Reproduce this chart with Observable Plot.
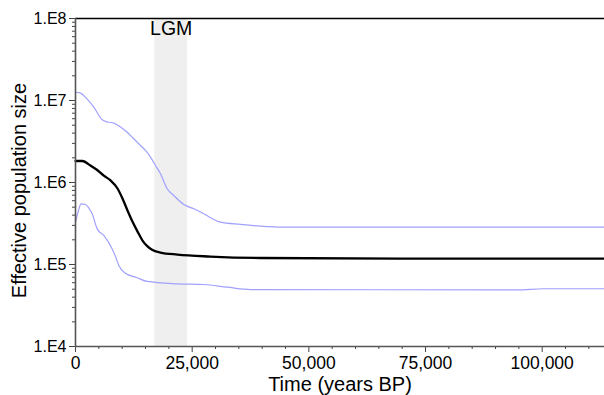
<!DOCTYPE html>
<html>
<head>
<meta charset="utf-8">
<script src="https://cdn.jsdelivr.net/npm/d3@7"></script>
<script src="https://cdn.jsdelivr.net/npm/@observablehq/plot@0.6"></script>
<style>
  html, body { margin: 0; padding: 0; background: white; }
</style>
</head>
<body>
<div id="chart"></div>
<script>
// Median effective population size (black)
const medianTime = [0, 1500, 3200, 4500, 6000, 7500, 9000, 10070, 11140, 12200, 13300, 14360, 15430, 16500, 18200, 21860, 28900, 39640, 69600, 113350];
const medianNe   = [1.83e6, 1.83e6, 1.61e6, 1.44e6, 1.22e6, 1.06e6, 8.45e5, 6.38e5, 4.56e5, 3.34e5, 2.52e5, 1.96e5, 1.66e5, 1.50e5, 1.40e5, 1.32e5, 1.25e5, 1.20e5, 1.18e5, 1.18e5];

// Upper 95% HPD (blue)
const upperTime = [0, 1070, 2360, 3920, 5720, 6860, 8210, 9640, 11080, 12430, 13930, 15000, 16070, 17140, 18210, 19650, 21060, 23210, 25350, 27490, 31070, 35360, 39640, 44570, 113350];
const upperNe   = [1.26e7, 1.23e7, 1.06e7, 8.28e6, 5.82e6, 5.47e6, 5.29e6, 4.75e6, 4.10e6, 3.44e6, 2.83e6, 2.46e6, 2.04e6, 1.61e6, 1.28e6, 8.38e5, 6.94e5, 5.39e5, 4.78e5, 4.15e5, 3.28e5, 3.08e5, 2.93e5, 2.85e5, 2.85e5];

// Lower 95% HPD (blue)
const lowerTime = [0, 640, 1180, 2140, 2790, 3580, 4650, 6060, 7860, 8570, 9280, 10710, 13220, 15360, 21790, 27490, 32500, 37500, 94700, 100280, 113350];
const lowerNe   = [3.28e5, 4.56e5, 5.50e5, 5.39e5, 4.95e5, 4.15e5, 2.72e5, 2.26e5, 1.55e5, 1.25e5, 9.73e4, 7.84e4, 6.89e4, 6.21e4, 5.82e4, 5.70e4, 5.29e4, 4.95e4, 4.91e4, 5.06e4, 5.06e4];

// Last Glacial Maximum band
const lgmStart = 17000;
const lgmEnd = 24000;
const lgmLabel = "LGM";
const lgmLabelTime = 20500;

// Axis ticks
const yTicks = [1e4, 1e5, 1e6, 1e7, 1e8];
const yTickLabels = ["1.E4", "1.E5", "1.E6", "1.E7", "1.E8"];
const xTicks = [0, 25000, 50000, 75000, 100000];
const xMinorStep = 5000;
const xMax = 113350;

const xTitle = "Time (years BP)";
const yTitle = "Effective population size";

const toRows = (ts, vs) => ts.map((t, i) => ({t, ne: vs[i]}));
const median = toRows(medianTime, medianNe);
const upper = toRows(upperTime, upperNe);
const lower = toRows(lowerTime, lowerNe);

const yMinor = [];
for (let e = 4; e < 8; e++) for (let m = 2; m <= 9; m++) yMinor.push(m * Math.pow(10, e));
const xMinor = d3.range(0, xMax, xMinorStep).filter(v => !xTicks.includes(v));

const font = "Liberation Sans, Arial, sans-serif";

const chart = Plot.plot({
  width: 604,
  height: 395,
  marginLeft: 75,
  marginRight: 0,
  marginTop: 18,
  marginBottom: 49,
  style: {fontFamily: font, background: "white", color: "black", overflow: "visible"},
  x: {domain: [0, xMax]},
  y: {type: "log", domain: [1e4, 1e8]},
  marks: [
    Plot.rect([{start: lgmStart, end: lgmEnd}], {x1: "start", x2: "end", fill: "#efefef"}),
    Plot.ruleY([1e8], {stroke: "black", strokeWidth: 1.3}),
    Plot.line(upper, {x: "t", y: "ne", stroke: "#a0a0ff", strokeWidth: 1.2, curve: "monotone-x"}),
    Plot.line(lower, {x: "t", y: "ne", stroke: "#a0a0ff", strokeWidth: 1.2, curve: "monotone-x"}),
    Plot.line(median, {x: "t", y: "ne", stroke: "black", strokeWidth: 2.3, curve: "monotone-x"}),
    Plot.axisY(yMinor, {tickSize: 3, tickFormat: () => "", label: null, stroke: "#444"}),
    Plot.axisY(yTicks, {tickSize: 6, tickPadding: 3, tickFormat: d => yTickLabels[yTicks.indexOf(d)], label: null, fontSize: 16, stroke: "#444"}),
    Plot.axisX(xMinor, {tickSize: 3, tickFormat: () => "", label: null, stroke: "#444"}),
    Plot.axisX(xTicks, {tickSize: 6, tickPadding: 4, tickFormat: d3.format(","), label: null, fontSize: 17.5, stroke: "#444"}),
    Plot.ruleX([0], {stroke: "#555", strokeWidth: 1.6}),
    Plot.ruleY([1e4], {stroke: "#555", strokeWidth: 1.6}),
    Plot.text([{t: lgmLabelTime, label: lgmLabel}], {x: "t", text: "label", frameAnchor: "top", lineAnchor: "middle", dy: 10, fontSize: 19.5}),
    Plot.text([yTitle], {frameAnchor: "left", textAnchor: "middle", lineAnchor: "middle", rotate: -90, dx: -56, dy: 8, fontSize: 20}),
    Plot.text([xTitle], {frameAnchor: "bottom", textAnchor: "middle", lineAnchor: "middle", dy: 38, fontSize: 20})
  ]
});
document.getElementById("chart").appendChild(chart);
</script>
</body>
</html>
